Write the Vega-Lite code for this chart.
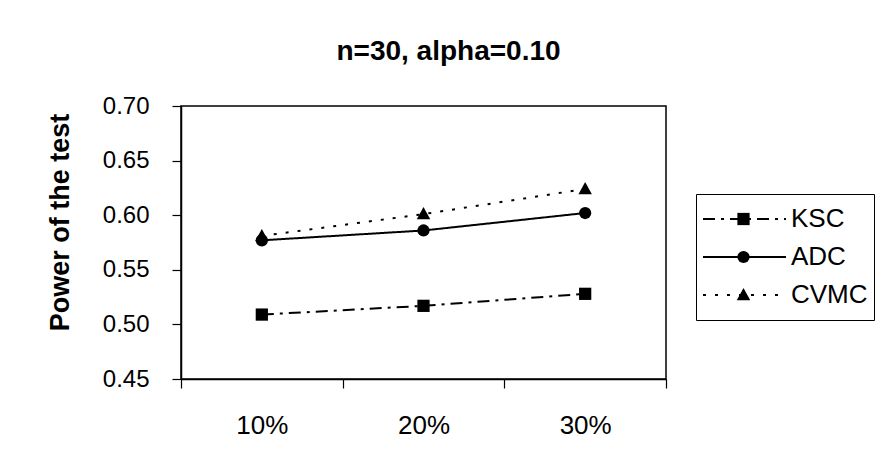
{
  "$schema": "https://vega.github.io/schema/vega-lite/v6.json",
  "width": 485,
  "height": 273,
  "autosize": {"type": "none"},
  "padding": {"left": 181, "top": 106, "right": 210, "bottom": 82},
  "background": "white",
  "title": {
    "text": "n=30, alpha=0.10",
    "font": "Liberation Sans",
    "fontSize": 28,
    "fontWeight": "bold",
    "color": "black",
    "anchor": "middle",
    "baseline": "alphabetic",
    "offset": 6,
    "dx": 25
  },
  "data": {
    "values": [
      {"pct": "10%", "test": "KSC", "power": 0.509},
      {"pct": "20%", "test": "KSC", "power": 0.517},
      {"pct": "30%", "test": "KSC", "power": 0.528},
      {"pct": "10%", "test": "ADC", "power": 0.577},
      {"pct": "20%", "test": "ADC", "power": 0.586},
      {"pct": "30%", "test": "ADC", "power": 0.602},
      {"pct": "10%", "test": "CVMC", "power": 0.581},
      {"pct": "20%", "test": "CVMC", "power": 0.601},
      {"pct": "30%", "test": "CVMC", "power": 0.624}
    ]
  },
  "encoding": {
    "x": {
      "field": "pct",
      "type": "ordinal",
      "bandPosition": 0.5,
      "scale": {"type": "band", "paddingInner": 0, "paddingOuter": 0},
      "axis": {
        "title": null,
        "labelAngle": 0,
        "tickBand": "extent",
        "tickSize": 9,
        "tickColor": "black",
        "tickWidth": 1.2,
        "domainColor": "black",
        "domainWidth": 1.5,
        "labelFont": "Liberation Sans",
        "labelFontSize": 26,
        "labelColor": "black",
        "labelPadding": 24
      }
    },
    "y": {
      "field": "power",
      "type": "quantitative",
      "scale": {"domain": [0.45, 0.70], "nice": false, "zero": false},
      "axis": {
        "title": "Power of the test",
        "titleFont": "Liberation Sans",
        "titleFontSize": 27,
        "titleFontWeight": "bold",
        "titleColor": "black",
        "titleAngle": -90,
        "titleAlign": "center",
        "titleBaseline": "middle",
        "titleX": -121,
        "titleY": 116,
        "values": [0.45, 0.5, 0.55, 0.6, 0.65, 0.7],
        "format": ".2f",
        "grid": false,
        "tickSize": 9,
        "tickColor": "black",
        "tickWidth": 1.2,
        "domainColor": "black",
        "domainWidth": 1.5,
        "labelFont": "Liberation Sans",
        "labelFontSize": 24,
        "labelColor": "black",
        "labelPadding": 23
      }
    }
  },
  "layer": [
    {
      "mark": {"type": "line", "color": "black", "strokeWidth": 2},
      "encoding": {
        "strokeDash": {
          "field": "test",
          "type": "nominal",
          "scale": {"domain": ["KSC", "ADC", "CVMC"], "range": [[12, 6, 3, 6], [1, 0], [3, 9]]},
          "legend": {
            "title": null,
            "orient": "none",
            "legendX": 515,
            "legendY": 88,
            "symbolType": "stroke",
            "symbolSize": 6889,
            "symbolStrokeWidth": 2,
            "symbolStrokeColor": "black",
            "labelFont": "Liberation Sans",
            "labelFontSize": 26,
            "labelColor": "black",
            "labelOffset": 4,
            "padding": 6,
            "rowPadding": 0,
            "clipHeight": 38,
            "strokeColor": "black",
            "fillColor": "white"
          }
        }
      }
    },
    {
      "mark": {"type": "point", "filled": true, "color": "black", "size": 150, "opacity": 1},
      "encoding": {
        "shape": {
          "field": "test",
          "type": "nominal",
          "sort": null,
          "scale": {"range": ["square", "circle", "M0,-1.15L1.1,0.85L-1.1,0.85Z"]},
          "legend": {
            "title": null,
            "orient": "none",
            "legendX": 515,
            "legendY": 88,
            "symbolSize": 150,
            "symbolFillColor": "black",
            "symbolStrokeColor": "black",
            "symbolStrokeWidth": 0,
            "symbolOpacity": 1,
            "symbolOffset": 35,
            "labelExpr": "''",
            "labelFontSize": 1,
            "labelOffset": 0,
            "padding": 6,
            "rowPadding": 0,
            "clipHeight": 38
          }
        }
      }
    }
  ],
  "config": {
    "view": {"stroke": "black", "strokeWidth": 1.5},
    "font": "Liberation Sans"
  }
}
